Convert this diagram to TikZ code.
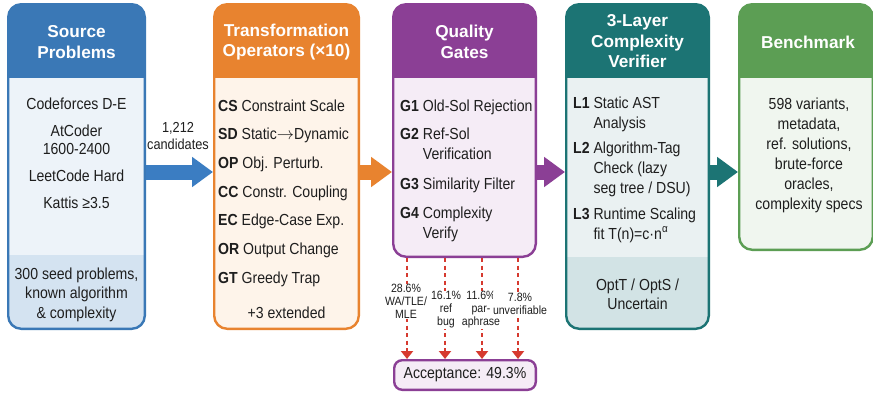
\documentclass[tikz,border=0pt]{standalone}
\usepackage{fontspec}
\setmainfont{Liberation Sans}[FakeStretch=0.88]
\newfontfamily\hfont{Liberation Sans}
\usetikzlibrary{arrows.meta}
\definecolor{ink}{HTML}{1E1E1E}
\definecolor{blueH}{HTML}{3A78B6}
\definecolor{blueB}{HTML}{EDF3F9}
\definecolor{blueL}{HTML}{D4E3F1}
\definecolor{blueA}{HTML}{3B7DC2}
\definecolor{oraH}{HTML}{E8832F}
\definecolor{oraB}{HTML}{FEF4EA}
\definecolor{purH}{HTML}{8B3F95}
\definecolor{purB}{HTML}{F5ECF6}
\definecolor{tealH}{HTML}{1C7474}
\definecolor{tealB}{HTML}{EAF1F2}
\definecolor{tealL}{HTML}{D2E3E5}
\definecolor{grnH}{HTML}{5C9E54}
\definecolor{grnB}{HTML}{F0F6EF}
\definecolor{redD}{HTML}{D63A2F}
\tikzset{
  panel/.style n args={4}{rectangle, rounded corners=13pt, draw=#1, line width=2.4pt,
    fill=#2, inner sep=0pt,
    path picture={\fill[#1, sharp corners] (path picture bounding box.north west) rectangle ([yshift=-74pt]path picture bounding box.north east);
      \fill[#3, sharp corners] ([yshift=#4]path picture bounding box.south west) rectangle (path picture bounding box.south east);}},
  hdr/.style={text=white, align=center, inner sep=0pt, font=\hfont\bfseries\fontsize{17.2}{20.5}\selectfont},
  txt/.style={inner sep=0pt, text=ink, font=\fontsize{16}{20}\selectfont},
  lab/.style={fill=white, inner sep=0.5pt, align=center, text=ink, font=\fontsize{12}{13}\selectfont},
  bigarrow/.style={line width=15pt, draw=#1, -{Triangle[length=21pt,width=29pt]}},
  redarrow/.style={draw=redD, line width=2.2pt, dash pattern=on 4pt off 3.5pt, -{Triangle[length=8pt,width=12pt]}},
}
\begin{document}
\begin{tikzpicture}[x=1pt,y=-1pt]
\useasboundingbox[fill=white] (0,0) rectangle (873,394);

% panels
\node[panel={blueH}{blueB}{blueL}{73.8pt}, minimum width=136.6pt, minimum height=324.6pt] (src) at (76.5,166.5) {};
\node[panel={oraH}{oraB}{oraB}{0pt}, minimum width=144.6pt, minimum height=324.6pt] (trf) at (286.5,166.5) {};
\node[panel={purH}{purB}{purB}{0pt}, minimum width=142.6pt, minimum height=252.6pt] (qg) at (464.5,130.5) {};
\node[panel={tealH}{tealB}{tealL}{71.8pt}, minimum width=142.6pt, minimum height=324.6pt] (ver) at (637.5,166.5) {};
\node[panel={grnH}{grnB}{grnB}{0pt}, minimum width=133.6pt, minimum height=245.6pt] (bm) at (806,127) {};

% headers
\node[hdr] (h1) at (76.5,42) {Source\\Problems};
\node[hdr] (h2) at (286.5,42) {Transformation\\Operators (×10)};
\node[hdr] (h3) at (464.5,42) {Quality\\Gates};
\node[hdr] (h4) at (637.5,41.5) {3-Layer\\Complexity\\Verifier};
\node[hdr] (h5) at (808,42) {Benchmark};

% source body
\node[txt, anchor=base] (s1) at (76.5,109) {\fontsize{16}{18}\selectfont
  \begin{tabular}[t]{@{}c@{}}Codeforces D-E\\[9pt] AtCoder\\ 1600-2400\\[9pt] LeetCode Hard\\[9pt] Kattis ≥3.5\end{tabular}};
\node[txt, anchor=base] (s2) at (76.5,279) {\fontsize{16}{19.5}\selectfont
  \begin{tabular}[t]{@{}c@{}}300 seed problems,\\ known algorithm\\ \& complexity\end{tabular}};

% transformation body
\node[txt, anchor=base west] (t1) at (218,111) {\fontsize{16}{28.7}\selectfont
  \begin{tabular}[t]{@{}l@{}}\textbf{CS} Constraint Scale\\ \textbf{SD} Static$\rightarrow$Dynamic\\ \textbf{OP} Obj. Perturb.\\
  \textbf{CC} Constr. Coupling\\ \textbf{EC} Edge-Case Exp.\\ \textbf{OR} Output Change\\ \textbf{GT} Greedy Trap\end{tabular}};
\node[txt, anchor=base] (t2) at (286.5,318) {+3 extended};

% quality body
\node[txt, anchor=base west] (q1) at (400,111) {\fontsize{16}{20}\selectfont
  \begin{tabular}[t]{@{}l@{\ }l@{}}\textbf{G1} & Old-Sol Rejection\\[8pt] \textbf{G2} & Ref-Sol\\ & Verification\\[10pt]
  \textbf{G3} & Similarity Filter\\[9pt] \textbf{G4} & Complexity\\ & Verify\end{tabular}};

% verifier body
\node[txt, anchor=base west] (v1) at (573,108) {\fontsize{16}{20}\selectfont
  \begin{tabular}[t]{@{}l@{\ }l@{}}\textbf{L1} & Static AST\\ & Analysis\\[5pt] \textbf{L2} & Algorithm-Tag\\ & Check (lazy\\ & seg tree / DSU)\\[6pt]
  \textbf{L3} & Runtime Scaling\\ & fit T(n)=c·n\textsuperscript{α}\end{tabular}};
\node[txt, anchor=base] (v2) at (637.5,290) {\fontsize{16}{19}\selectfont
  \begin{tabular}[t]{@{}c@{}}OptT / OptS /\\ Uncertain\end{tabular}};

% benchmark body
\node[txt, anchor=base] (b1) at (809,109) {\fontsize{16}{20}\selectfont
  \begin{tabular}[t]{@{}c@{}}598 variants,\\ metadata,\\ ref. solutions,\\ brute-force\\ oracles,\\ complexity specs\end{tabular}};

% acceptance
\node[rectangle, rounded corners=8pt, draw=purH, line width=2.4pt, fill=purB, minimum width=141.6pt, minimum height=29.6pt,
  inner sep=0pt, text=ink, font=\fontsize{16}{18}\selectfont] (acc) at (465,375) {Acceptance: 49.3\%};

% main arrows
\coordinate (ay) at (0,172);
\draw[bigarrow=blueA] (src.east |- ay) -- (trf.west |- ay);
\draw[bigarrow=oraH] (trf.east |- ay) -- (qg.west |- ay);
\draw[bigarrow=purH] (qg.east |- ay) -- (ver.west |- ay);
\draw[bigarrow=tealH] (ver.east |- ay) -- (bm.west |- ay);
\node[txt, align=center, font=\fontsize{14.5}{17}\selectfont] (cand) at (178,136.5) {1,212\\candidates};

% dashed rejection arrows
\coordinate (x1) at (407,0);
\coordinate (x2) at (445,0);
\coordinate (x3) at (482,0);
\coordinate (x4) at (518,0);
\draw[redarrow] (qg.south -| x1) -- (acc.north -| x1);
\draw[redarrow] (qg.south -| x2) -- (acc.north -| x2);
\draw[redarrow] (qg.south -| x3) -- (acc.north -| x3);
\draw[redarrow] (qg.south -| x4) -- (acc.north -| x4);
\node[lab] (r1) at (406,301.5) {28.6\%\\WA/TLE/\\MLE};
\node[lab] (r2) at (446,310) {16.1\%\\ref\\bug};
\node[lab] (r3) at (481,310) {11.6\%\\par-\\aphrase};
\node[lab] (r4) at (520,303.5) {7.8\%\\unverifiable};
\end{tikzpicture}
\end{document}
